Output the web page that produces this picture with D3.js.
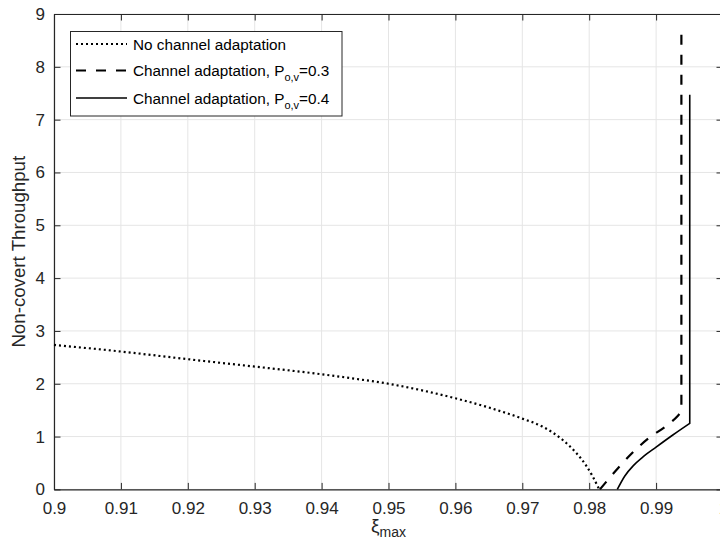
<!DOCTYPE html>
<html>
<head>
<meta charset="utf-8">
<script src="https://cdn.jsdelivr.net/npm/d3@7"></script>
<style>
  html, body { margin: 0; padding: 0; background: #fff; }
  svg { display: block; font-family: "Liberation Sans", Arial, Helvetica, sans-serif; }
</style>
</head>
<body>
<svg id="chart" width="720" height="555"></svg>
<script>
// ---- data ----
const xTicks = [0.9, 0.91, 0.92, 0.93, 0.94, 0.95, 0.96, 0.97, 0.98, 0.99, 1];
const xTickLabels = ["0.9", "0.91", "0.92", "0.93", "0.94", "0.95", "0.96", "0.97", "0.98", "0.99", "1"];
const yTicks = [0, 1, 2, 3, 4, 5, 6, 7, 8, 9];

const noAdaptX = [0.900, 0.910, 0.920, 0.930, 0.940, 0.945, 0.950, 0.955, 0.960, 0.965, 0.970, 0.973, 0.976, 0.978, 0.9795, 0.9805, 0.9815];
const noAdaptY = [2.735, 2.61, 2.465, 2.325, 2.18, 2.095, 2.00, 1.875, 1.725, 1.55, 1.34, 1.19, 0.94, 0.70, 0.46, 0.25, 0.0];

// curved part, then the final vertical jump (last point)
const adapt03X = [0.9816, 0.9843, 0.9866, 0.9890, 0.9915, 0.9933, 0.99378, 0.99378];
const adapt03Y = [0.0, 0.40, 0.71, 0.98, 1.20, 1.40, 1.47, 8.7];

const adapt04X = [0.9842, 0.9853, 0.9866, 0.9880, 0.9900, 0.9925, 0.99503, 0.99503];
const adapt04Y = [0.0, 0.25, 0.45, 0.61, 0.80, 1.03, 1.25, 7.47];

const legendLabels = ["No channel adaptation", "Channel adaptation, P", "Channel adaptation, P"];
const legendSubs = ["", "o,v", "o,v"];
const legendTails = ["", "=0.3", "=0.4"];

(function () {
// ---- layout ----
const svg = d3.select("#chart");
const W = 720, H = 555;
const pL = 54, pR = 723, pT = 14, pB = 489.4;
const axisColor = "#262626";
const gridColor = "#e5e5e5";

const x = d3.scaleLinear().domain([0.9, 1.0]).range([pL, pR]);
const y = d3.scaleLinear().domain([0, 9]).range([pB, pT]);

svg.append("rect").attr("width", W).attr("height", H).attr("fill", "#fff");

// grid
const grid = svg.append("g");
grid.selectAll("line.gx").data(xTicks).enter().append("line")
  .attr("x1", d => x(d)).attr("x2", d => x(d)).attr("y1", pT).attr("y2", pB)
  .attr("stroke", gridColor).attr("stroke-width", 1);
grid.selectAll("line.gy").data(yTicks).enter().append("line")
  .attr("y1", d => y(d)).attr("y2", d => y(d)).attr("x1", pL).attr("x2", pR)
  .attr("stroke", gridColor).attr("stroke-width", 1);

// axes (MATLAB-style box with inward ticks)
const tickLen = 6.5;
const fmtX = (d, i) => xTickLabels[i];
const xAxisB = d3.axisBottom(x).tickValues(xTicks).tickFormat(fmtX).tickSizeInner(-tickLen).tickSizeOuter(0).tickPadding(13);
const xAxisT = d3.axisTop(x).tickValues(xTicks).tickFormat("").tickSizeInner(-tickLen).tickSizeOuter(0);
const yAxisL = d3.axisLeft(y).tickValues(yTicks).tickFormat(d3.format("d")).tickSizeInner(-tickLen).tickSizeOuter(0).tickPadding(9);
const yAxisR = d3.axisRight(y).tickValues(yTicks).tickFormat("").tickSizeInner(-tickLen).tickSizeOuter(0);

function styleAxis(g) {
  g.select(".domain").attr("stroke", axisColor).attr("stroke-width", 1.2);
  g.selectAll(".tick line").attr("stroke", axisColor).attr("stroke-width", 1);
  g.selectAll(".tick text").attr("fill", axisColor).attr("font-size", 17)
    .attr("font-family", "Liberation Sans, Arial, sans-serif");
}

svg.append("g").attr("transform", `translate(0,${pB})`).call(xAxisB).call(styleAxis);
svg.append("g").attr("transform", `translate(0,${pT})`).call(xAxisT).call(styleAxis);
svg.append("g").attr("transform", `translate(${pL},0)`).call(yAxisL).call(styleAxis);
svg.append("g").attr("transform", `translate(${pR},0)`).call(yAxisR).call(styleAxis);

// series
const lineSmooth = d3.line().x(d => x(d[0])).y(d => y(d[1])).curve(d3.curveMonotoneX);
const zip = (a, b) => a.map((v, i) => [v, b[i]]);
// smooth curve through all but the last point, then a straight vertical jump
const curveThenJump = pts => {
  const last = pts[pts.length - 1];
  return lineSmooth(pts.slice(0, -1)) + "L" + x(last[0]) + "," + y(last[1]);
};

svg.append("path").datum(zip(noAdaptX, noAdaptY)).attr("d", lineSmooth)
  .attr("fill", "none").attr("stroke", "#000").attr("stroke-width", 2.2)
  .attr("stroke-dasharray", "2,3");
svg.append("path").datum(zip(adapt03X, adapt03Y)).attr("d", curveThenJump)
  .attr("fill", "none").attr("stroke", "#000").attr("stroke-width", 2.2)
  .attr("stroke-dasharray", "10,10").attr("stroke-linejoin", "round");
svg.append("path").datum(zip(adapt04X, adapt04Y)).attr("d", curveThenJump)
  .attr("fill", "none").attr("stroke", "#000").attr("stroke-width", 1.6);

// axis labels
svg.append("text")
  .attr("transform", `translate(25,${(pT + pB) / 2}) rotate(-90)`)
  .attr("text-anchor", "middle").attr("font-size", 18.7).attr("fill", axisColor)
  .text("Non-covert Throughput");

const xl = svg.append("text").attr("x", (pL + pR) / 2).attr("y", 532)
  .attr("text-anchor", "middle").attr("fill", axisColor);
xl.append("tspan").attr("font-size", 19).text("ξ");
xl.append("tspan").attr("font-size", 14).attr("dy", 5).text("max");

// legend
const lg = svg.append("g");
lg.append("rect").attr("x", 70.5).attr("y", 31.5).attr("width", 271.5).attr("height", 84.5)
  .attr("fill", "#fff").attr("stroke", axisColor).attr("stroke-width", 1);
const rowsY = [44, 70.5, 98];
const dashes = ["2,3", "10,10", null];
const widths = [2.2, 2.2, 1.6];
rowsY.forEach((ry, i) => {
  const l = lg.append("line").attr("x1", 76).attr("x2", 127).attr("y1", ry).attr("y2", ry)
    .attr("stroke", "#000").attr("stroke-width", widths[i]);
  if (dashes[i]) l.attr("stroke-dasharray", dashes[i]);
  const t = lg.append("text").attr("x", 133).attr("y", ry + 5.5)
    .attr("font-size", 15.3).attr("fill", "#000");
  t.append("tspan").text(legendLabels[i]);
  if (legendSubs[i]) {
    t.append("tspan").attr("font-size", 11).attr("dy", 5).text(legendSubs[i]);
    t.append("tspan").attr("dy", -5).text(legendTails[i]);
  }
});
})();
</script>
</body>
</html>
